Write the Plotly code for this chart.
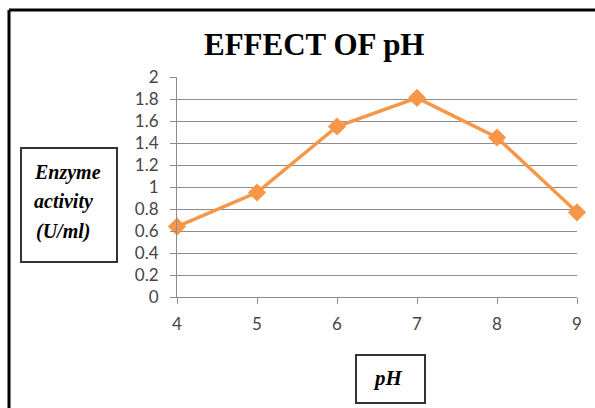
import plotly.graph_objects as go

ph = [4, 5, 6, 7, 8, 9]
activity = [0.64, 0.95, 1.55, 1.81, 1.45, 0.77]
y_ticks = [0, 0.2, 0.4, 0.6, 0.8, 1, 1.2, 1.4, 1.6, 1.8, 2]
y_tick_text = ["0", "0.2", "0.4", "0.6", "0.8", "1", "1.2", "1.4", "1.6", "1.8", "2"]
x_ticks = [4, 5, 6, 7, 8, 9]

W, H = 595, 408
L, R, T, B = 177, 577, 77, 297


def px(x):
    return (x - L) / (R - L)


def py(y):
    return (B - y) / (B - T)


fig = go.Figure()
fig.add_trace(go.Scatter(
    x=ph, y=activity, mode="lines+markers",
    line=dict(color="#F79646", width=3.5),
    marker=dict(symbol="diamond", size=14, color="#F79646"),
    showlegend=False,
    cliponaxis=False,
))

fig.update_layout(
    width=W, height=H,
    margin=dict(l=L, r=W - R, t=T, b=H - B),
    paper_bgcolor="white", plot_bgcolor="white",
    xaxis=dict(range=[4, 9], tickvals=x_ticks, showgrid=False, zeroline=False,
               showline=True, linecolor="#8c8c8c", linewidth=1,
               ticks="outside", ticklen=6, tickcolor="#8c8c8c",
               ticklabelstandoff=6,
               tickfont=dict(family="Lato", size=17, color="#454545")),
    yaxis=dict(range=[0, 2], tickvals=y_ticks, ticktext=y_tick_text,
               showgrid=True, gridcolor="#8c8c8c", gridwidth=1, zeroline=False,
               showline=True, linecolor="#8c8c8c", linewidth=1,
               ticks="outside", ticklen=6, tickcolor="#8c8c8c",
               ticklabelstandoff=8,
               tickfont=dict(family="Lato", size=17, color="#454545")),
    shapes=[
        # outer frame
        dict(type="line", xref="paper", yref="paper", x0=px(9), x1=px(600), y0=py(10), y1=py(10),
             line=dict(color="black", width=3)),
        dict(type="line", xref="paper", yref="paper", x0=px(9), x1=px(9), y0=py(10), y1=py(412),
             line=dict(color="black", width=3)),
        # y label box
        dict(type="rect", xref="paper", yref="paper", x0=px(21), x1=px(117), y0=py(262), y1=py(148),
             line=dict(color="#333333", width=2)),
        # x label box
        dict(type="rect", xref="paper", yref="paper", x0=px(356), x1=px(425), y0=py(403), y1=py(355),
             line=dict(color="#333333", width=2)),
    ],
    annotations=[
        dict(text="<b>EFFECT OF pH</b>", xref="paper", yref="paper", x=px(314), y=py(44),
             showarrow=False, xanchor="center", yanchor="middle",
             font=dict(family="Liberation Serif", size=31, color="black")),
        dict(text="<b><i>Enzyme</i></b>", xref="paper", yref="paper", x=px(32), y=py(172),
             showarrow=False, xanchor="left", yanchor="middle",
             font=dict(family="Liberation Serif", size=20, color="black")),
        dict(text="<b><i>activity</i></b>", xref="paper", yref="paper", x=px(32), y=py(201),
             showarrow=False, xanchor="left", yanchor="middle",
             font=dict(family="Liberation Serif", size=20, color="black")),
        dict(text="<b><i>(U/ml)</i></b>", xref="paper", yref="paper", x=px(34), y=py(231),
             showarrow=False, xanchor="left", yanchor="middle",
             font=dict(family="Liberation Serif", size=20, color="black")),
        dict(text="<b><i>pH</i></b>", xref="paper", yref="paper", x=px(388), y=py(378),
             showarrow=False, xanchor="center", yanchor="middle",
             font=dict(family="Liberation Serif", size=21, color="black")),
    ],
)

fig.write_html("out.html", config={"displayModeBar": False},
               post_script="document.body.style.margin='0';document.body.style.padding='0';document.body.style.overflow='hidden';")
